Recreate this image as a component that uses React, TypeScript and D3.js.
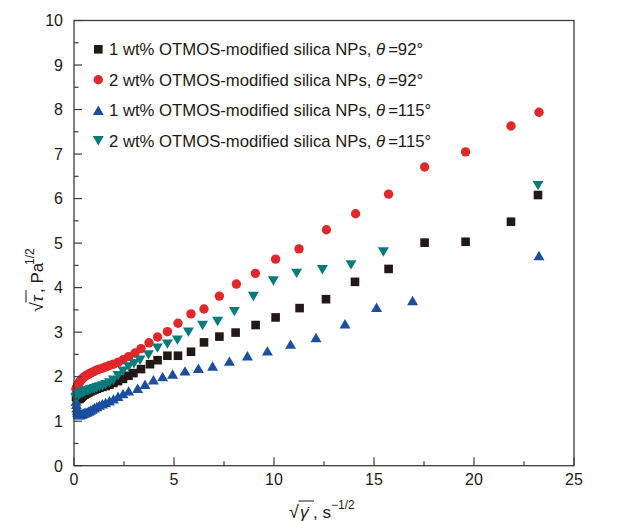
import React from "react";
import * as d3 from "d3";

// ---- data ----
const seriesNames = [
  "1 wt% OTMOS-modified silica NPs, ",
  "2 wt% OTMOS-modified silica NPs, ",
  "1 wt% OTMOS-modified silica NPs, ",
  "2 wt% OTMOS-modified silica NPs, ",
];
const seriesAngles = ["=92°", "=92°", "=115°", "=115°"];

const blackX = [0.10,0.12,0.14,0.16,0.18,0.20,0.22,0.25,0.28,0.31,0.34,0.38,0.43,0.48,0.53,0.59,0.66,0.74,0.82,0.92,1.02,1.14,1.27,1.42,1.58,1.77,1.97,2.20,2.45,2.72,2.97,3.35,3.80,4.18,4.67,5.20,5.85,6.50,7.27,8.08,9.08,10.08,11.28,12.60,14.05,15.73,17.53,19.58,21.85,23.20];
const blackY = [1.55,1.54,1.53,1.52,1.51,1.50,1.50,1.50,1.51,1.52,1.53,1.55,1.57,1.59,1.60,1.62,1.63,1.65,1.67,1.69,1.71,1.73,1.75,1.77,1.79,1.82,1.86,1.90,1.95,2.02,2.08,2.17,2.28,2.37,2.47,2.47,2.56,2.77,2.90,2.99,3.16,3.33,3.54,3.74,4.13,4.42,5.01,5.03,5.48,6.08];

const redX = [0.10,0.12,0.14,0.16,0.18,0.20,0.22,0.25,0.28,0.31,0.34,0.38,0.43,0.48,0.53,0.59,0.66,0.74,0.82,0.92,1.02,1.14,1.27,1.42,1.58,1.77,1.97,2.20,2.45,2.73,3.05,3.35,3.75,4.18,4.67,5.20,5.85,6.50,7.27,8.12,9.07,10.08,11.25,12.62,14.08,15.73,17.53,19.58,21.85,23.25];
const redY = [1.72,1.74,1.76,1.78,1.80,1.82,1.84,1.86,1.88,1.90,1.92,1.94,1.96,1.98,2.00,2.02,2.04,2.06,2.08,2.10,2.12,2.15,2.17,2.19,2.22,2.25,2.28,2.32,2.38,2.45,2.53,2.63,2.76,2.89,3.01,3.20,3.41,3.52,3.81,4.08,4.32,4.64,4.87,5.30,5.66,6.10,6.71,7.05,7.63,7.94];

const blueX = [0.10,0.12,0.14,0.16,0.18,0.20,0.22,0.25,0.28,0.31,0.34,0.38,0.43,0.48,0.53,0.59,0.66,0.74,0.82,0.92,1.02,1.14,1.27,1.42,1.58,1.77,1.97,2.20,2.45,2.73,3.18,3.55,3.97,4.43,4.93,5.55,6.22,6.93,7.77,8.67,9.67,10.83,12.10,13.55,15.13,16.93,23.25];
const blueY = [1.45,1.38,1.30,1.24,1.20,1.17,1.16,1.15,1.15,1.15,1.16,1.16,1.17,1.18,1.19,1.20,1.21,1.23,1.25,1.27,1.30,1.33,1.36,1.39,1.42,1.46,1.50,1.56,1.62,1.68,1.74,1.83,1.93,2.00,2.06,2.13,2.19,2.24,2.35,2.47,2.58,2.73,2.88,3.19,3.56,3.71,4.72];

const tealX = [0.10,0.12,0.14,0.16,0.18,0.20,0.22,0.25,0.28,0.31,0.34,0.38,0.43,0.48,0.53,0.59,0.66,0.74,0.82,0.92,1.02,1.14,1.27,1.42,1.58,1.77,1.97,2.20,2.45,2.73,3.00,3.30,3.72,4.17,4.67,5.17,5.72,6.43,7.18,8.02,8.97,9.97,11.13,12.42,13.85,15.47,23.20];
const tealY = [1.52,1.53,1.54,1.55,1.56,1.57,1.58,1.59,1.60,1.61,1.62,1.63,1.64,1.65,1.66,1.67,1.68,1.69,1.70,1.71,1.73,1.75,1.77,1.79,1.82,1.86,1.92,2.02,2.12,2.22,2.29,2.37,2.49,2.64,2.73,2.82,3.00,3.15,3.24,3.46,3.80,4.15,4.32,4.40,4.51,4.80,6.29];

const xTicks = [0, 5, 10, 15, 20, 25];
const yTicks = [0, 1, 2, 3, 4, 5, 6, 7, 8, 9, 10];

// ---- styles ----
const W = 630, H = 521;
const L = 74, R = 574, T = 20.5, B = 465.7;
const ink = "#231815";
const axisColor = "#3c3c3c";
const font = "'Liberation Sans', Arial, Helvetica, sans-serif";
const colors = ["#231815", "#e0282a", "#1c4ea0", "#0a7b7c"];
const shapes = ["square", "circle", "up", "down"];

function Marker({ shape, x, y, color }: { shape: string; x: number; y: number; color: string }) {
  if (shape === "square") {
    const s = 8.6;
    return <rect x={x - s / 2} y={y - s / 2} width={s} height={s} fill={color} />;
  }
  if (shape === "circle") return <circle cx={x} cy={y} r={4.7} fill={color} />;
  const w = 11, h = 9.4;
  const p = shape === "up"
    ? `M${x - w / 2},${y + h / 2}L${x + w / 2},${y + h / 2}L${x},${y - h / 2}Z`
    : `M${x - w / 2},${y - h / 2}L${x + w / 2},${y - h / 2}L${x},${y + h / 2}Z`;
  return <path d={p} fill={color} />;
}

export default function App() {
  const x = d3.scaleLinear().domain([0, 25]).range([L, R]);
  const y = d3.scaleLinear().domain([0, 10]).range([B, T]);
  const series = [
    { xs: blackX, ys: blackY },
    { xs: redX, ys: redY },
    { xs: blueX, ys: blueY },
    { xs: tealX, ys: tealY },
  ];
  const xMinor = d3.range(0, 25.01, 2.5);
  const yMinor = d3.range(0, 10.01, 0.5);
  const legendY = [49.3, 79.8, 110.3, 140.8];

  return (
    <svg width={W} height={H} style={{ position: "absolute", left: 0, top: 0, background: "#fff" }} fontFamily={font}>
      <rect x={0} y={0} width={W} height={H} fill="#fff" />
      {/* data */}
      {series.map((s, i) => (
        <g key={i}>
          {s.xs.map((xv, j) => (
            <Marker key={j} shape={shapes[i]} x={x(xv)} y={y(s.ys[j])} color={colors[i]} />
          ))}
        </g>
      ))}
      {/* frame */}
      <rect x={L} y={T} width={R - L} height={B - T} fill="none" stroke={axisColor} strokeWidth={1.3} />
      {/* ticks */}
      {xMinor.map((v, i) => {
        const major = Math.abs(v % 5) < 1e-6;
        return <line key={"xt" + i} x1={x(v)} x2={x(v)} y1={B} y2={B - (major ? 8.5 : 4.5)} stroke={axisColor} strokeWidth={1.2} />;
      })}
      {yMinor.map((v, i) => {
        const major = Math.abs(v % 1) < 1e-6;
        return <line key={"yt" + i} x1={L} x2={L + (major ? 8 : 4.5)} y1={y(v)} y2={y(v)} stroke={axisColor} strokeWidth={1.2} />;
      })}
      {xTicks.map((v) => (
        <text key={"xl" + v} x={x(v)} y={485} textAnchor="middle" fontSize={16} fill={ink}>{v}</text>
      ))}
      {yTicks.map((v) => (
        <text key={"yl" + v} x={63} y={y(v) + 5.8} textAnchor="end" fontSize={16} fill={ink}>{v}</text>
      ))}
      {/* x axis title */}
      <g fill={ink}>
        <text x={289} y={518} fontSize={18}>√</text>
        <line x1={298.5} x2={314} y1={501} y2={501} stroke={ink} strokeWidth={1} />
        <text x={300} y={518} fontSize={17} fontStyle="italic">γ̇</text>
        <text x={313} y={518} fontSize={17}>, s</text>
        <text x={331} y={509} fontSize={12}>−1/2</text>
      </g>
      {/* y axis title */}
      <g transform="translate(43,312) rotate(-90)" fill={ink}>
        <text x={0} y={0} fontSize={18}>√</text>
        <line x1={9.5} x2={22} y1={-17} y2={-17} stroke={ink} strokeWidth={1} />
        <text x={10} y={0} fontSize={17} fontStyle="italic">τ</text>
        <text x={19} y={0} fontSize={17}>, Pa</text>
        <text x={47} y={-9} fontSize={12}>1/2</text>
      </g>
      {/* legend */}
      {seriesNames.map((n, i) => (
        <g key={"lg" + i}>
          <Marker shape={shapes[i]} x={98.3} y={legendY[i]} color={colors[i]} />
          <text x={109} y={legendY[i] + 6} fontSize={16.7} fill={ink}>
            {n}
            <tspan fontStyle="italic">θ</tspan>
            <tspan dx={3}>{seriesAngles[i]}</tspan>
          </text>
        </g>
      ))}
    </svg>
  );
}
